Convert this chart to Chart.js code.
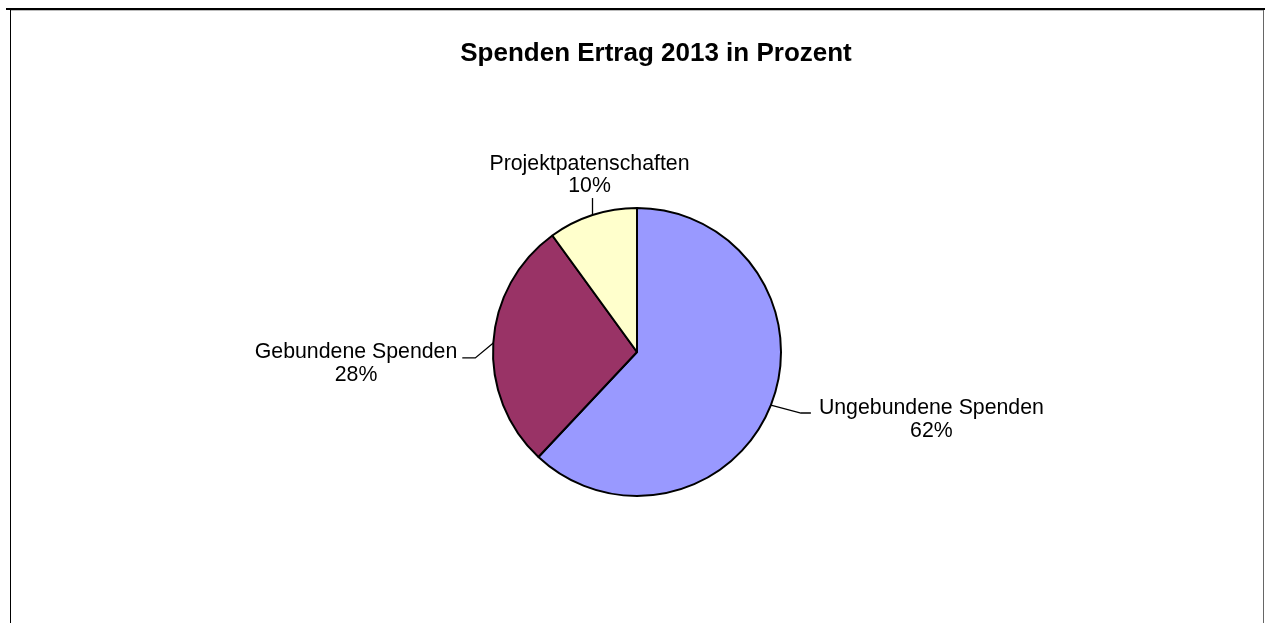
<!DOCTYPE html>
<html>
<head>
<meta charset="utf-8">
<script src="https://cdn.jsdelivr.net/npm/chart.js@4/dist/chart.umd.min.js"></script>
<style>
  html, body { margin: 0; padding: 0; background: #fff; overflow: hidden; }
  #wrap { position: absolute; left: 0; top: 0; width: 1265px; height: 623px; }
  .rule { position: absolute; }
  #top { left: 6px; top: 8px; width: 1259px; height: 2px; background: #000; }
  #topShade { left: 11px; top: 10px; width: 1252px; height: 1px; background: #bbb; }
  #left { left: 10px; top: 10px; width: 1px; height: 613px; background: #000; }
  #right { left: 1263px; top: 10px; width: 1px; height: 613px; background: #666; }
</style>
</head>
<body>
<div id="wrap">
  <canvas id="spendenChart" width="1265" height="623"></canvas>
  <div class="rule" id="top"></div>
  <div class="rule" id="topShade"></div>
  <div class="rule" id="left"></div>
  <div class="rule" id="right"></div>
</div>
<script>
// data
const categories = ["Ungebundene Spenden", "Gebundene Spenden", "Projektpatenschaften"];
const shares = [62, 28, 10];
const sliceColors = ["#9999FF", "#993366", "#FFFFCC"];
const chartTitle = "Spenden Ertrag 2013 in Prozent";

const FONT = "'Liberation Sans', Arial, Helvetica, sans-serif";

// leader line layout per slice (relative to the point on the pie edge)
const leaderLayout = [
  { elbow: [30, 8], tail: 10, align: "left", gap: 8, lineGap: 23.5 },
  { elbow: [-18, 15], tail: -13, align: "right", gap: 5, lineGap: 22.5 },
  { elbow: [0, -17], tail: 0, align: "center", gap: 0, lineGap: 22, above: true }
];

// title is drawn here because it sits a little right of the pie centre
const titleText = {
  id: "titleText",
  afterDraw(chart) {
    const ctx = chart.ctx;
    ctx.save();
    ctx.font = "bold 26px " + FONT;
    ctx.fillStyle = "#000";
    ctx.textAlign = "center";
    ctx.textBaseline = "alphabetic";
    ctx.fillText(chartTitle, 656, 61);
    ctx.restore();
  }
};

const pieLabels = {
  id: "pieLabels",
  afterDatasetsDraw(chart) {
    const ctx = chart.ctx;
    const meta = chart.getDatasetMeta(0);
    const data = chart.data.datasets[0].data;
    const total = data.reduce((a, b) => a + b, 0);
    ctx.save();
    ctx.font = "21.3px " + FONT;
    ctx.fillStyle = "#000";
    ctx.strokeStyle = "#000";
    ctx.lineWidth = 1.3;
    meta.data.forEach((arc, i) => {
      const p = arc.getProps(["x", "y", "startAngle", "endAngle", "outerRadius"], true);
      const mid = (p.startAngle + p.endAngle) / 2;
      const ex = p.x + Math.cos(mid) * p.outerRadius;
      const ey = p.y + Math.sin(mid) * p.outerRadius;
      const lay = leaderLayout[i];
      const bx = ex + lay.elbow[0];
      const by = ey + lay.elbow[1];
      const tx = bx + lay.tail;
      ctx.beginPath();
      ctx.moveTo(ex, ey);
      ctx.lineTo(bx, by);
      ctx.lineTo(tx, by);
      ctx.stroke();

      const lines = [categories[i], Math.round(data[i] / total * 100) + "%"];
      const w = Math.max(...lines.map(l => ctx.measureText(l).width));
      let cx;
      if (lay.align === "left") cx = tx + lay.gap + w / 2;
      else if (lay.align === "right") cx = tx - lay.gap - w / 2;
      else cx = tx - 3;
      let base1 = lay.above ? by - 28 : by + 0.5;
      ctx.textAlign = "center";
      ctx.textBaseline = "alphabetic";
      ctx.fillText(lines[0], cx, base1);
      ctx.fillText(lines[1], cx, base1 + lay.lineGap);
    });
    ctx.restore();
  }
};

new Chart(document.getElementById("spendenChart"), {
  type: "pie",
  data: {
    labels: categories,
    datasets: [{
      data: shares,
      backgroundColor: sliceColors,
      borderColor: "#000",
      borderWidth: 2,
      hoverOffset: 0
    }]
  },
  options: {
    responsive: false,
    animation: false,
    events: [],
    layout: { padding: { left: 9, right: 0, top: 207, bottom: 126 } },
    plugins: {
      legend: { display: false },
      tooltip: { enabled: false },
      title: { display: false }
    }
  },
  plugins: [pieLabels, titleText]
});
</script>
</body>
</html>
